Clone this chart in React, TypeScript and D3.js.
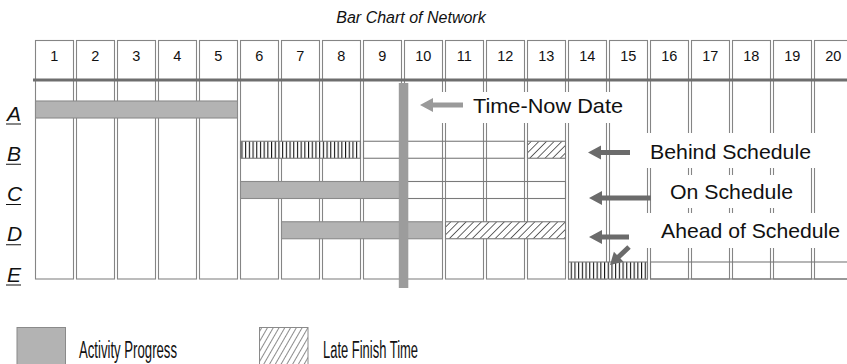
import React from "react";
import * as d3 from "d3";

// ---------------- data ----------------
const periods = d3.range(1, 21).map(String);
const activities = ["A", "B", "C", "D", "E"];

// [activity, startPeriodIndex, endPeriodIndex]  (period boundaries, 0..20)
const progressBars: [string, number, number][] = [
  ["A", 0, 5],
  ["C", 5, 9],
  ["D", 6, 10],
];
const scheduledBars: [string, number, number][] = [
  ["B", 5, 8],
  ["E", 13, 15],
];
const remainingBars: [string, number, number][] = [
  ["B", 8, 12],
  ["C", 9, 13],
  ["E", 15, 20],
];
const lateFinishBars: [string, number, number][] = [
  ["B", 12, 13],
  ["D", 10, 13],
];
const timeNow = 9;

const title = "Bar Chart of Network";
const notes = ["Time-Now Date", "Behind Schedule", "On Schedule", "Ahead of Schedule"];
const legendItems = ["Activity Progress", "Late Finish Time"];

const W = 847;
const H = 364;
const FONT = "'Liberation Sans', Arial, Helvetica, sans-serif";

function arrow(x1: number, y1: number, x2: number, y2: number, shaft = 5, headL = 13, headW = 14) {
  const dx = x2 - x1;
  const dy = y2 - y1;
  const len = Math.hypot(dx, dy);
  const ux = dx / len;
  const uy = dy / len;
  const px = -uy;
  const py = ux;
  const bx = x2 - ux * headL;
  const by = y2 - uy * headL;
  const s = shaft / 2;
  const h = headW / 2;
  const pts = [
    [x1 + px * s, y1 + py * s],
    [bx + px * s, by + py * s],
    [bx + px * h, by + py * h],
    [x2, y2],
    [bx - px * h, by - py * h],
    [bx - px * s, by - py * s],
    [x1 - px * s, y1 - py * s],
  ];
  return pts.map((p) => p.join(",")).join(" ");
}

export default function App() {
  const x = d3.scaleLinear().domain([0, 20]).range([35, 855]);
  const y = d3.scalePoint<string>().domain(activities).range([109.5, 270.5]);
  const barH = 17;
  const top = 40.5;
  const headerLine = 80;
  const bottom = 279;
  const gap = 2.5;

  const barRect = (d: [string, number, number]) => ({
    x: x(d[1]) + 0.5,
    y: (y(d[0]) as number) - barH / 2,
    width: x(d[2]) - x(d[1]) - gap - 0.5,
    height: barH,
  });

  // label boxes (white) and arrows
  const noteLayout = [
    { box: [438, 92, 202, 31], tx: 473, ty: 113, arrow: [463, 105, 420, 105], color: "#9a9a9a" },
    { box: [641, 133, 185, 35], tx: 650, ty: 159, arrow: [630, 152.5, 588, 152.5], color: "#6b6b6b" },
    { box: [656, 175, 154, 33], tx: 670, ty: 199, arrow: [651, 198, 589, 198], color: "#6b6b6b" },
    { box: [645, 213, 202, 35], tx: 661, ty: 238, arrow: [629, 237, 589, 237], color: "#6b6b6b" },
  ];
  const noteWidths = [150, 161, 123, 179];

  return (
    <svg width={W} height={H} style={{ position: "absolute", left: 0, top: 0 }}>
      <defs>
        <pattern id="vhatch" width={3.7} height={10} patternUnits="userSpaceOnUse">
          <rect width={3.7} height={10} fill="#fff" />
          <line x1={1.5} y1={0} x2={1.5} y2={10} stroke="#000" strokeWidth={1} />
        </pattern>
        <pattern id="dhatch" width={5.4} height={5.4} patternUnits="userSpaceOnUse" patternTransform="rotate(45)">
          <rect width={5.4} height={5.4} fill="#fff" />
          <line x1={0} y1={0} x2={0} y2={5.4} stroke="#000" strokeWidth={1.2} />
        </pattern>
        <pattern id="dhatchLegend" width={5} height={5} patternUnits="userSpaceOnUse" patternTransform="rotate(30)">
          <rect width={5} height={5} fill="#fff" />
          <line x1={0} y1={0} x2={0} y2={5} stroke="#000" strokeWidth={0.9} />
        </pattern>
      </defs>
      <rect width={W} height={H} fill="#fff" />

      <text x={411} y={23} textAnchor="middle" fontFamily={FONT} fontStyle="italic" fontSize={16} fill="#111">
        {title}
      </text>

      {/* period columns */}
      {periods.map((p, i) => (
        <g key={p}>
          <rect
            x={x(i) + 0.5}
            y={top}
            width={x(i + 1) - x(i) - gap - 0.5}
            height={bottom - top}
            fill="none"
            stroke="#858585"
            strokeWidth={1.1}
          />
          <text
            x={(x(i) + x(i + 1) - gap) / 2}
            y={60.5}
            textAnchor="middle"
            fontFamily={FONT}
            fontSize={14.5}
            fill="#111"
          >
            {p}
          </text>
        </g>
      ))}
      <line x1={33} x2={W} y1={headerLine} y2={headerLine} stroke="#6e6e6e" strokeWidth={3} />

      {/* activity labels */}
      {activities.map((a) => (
        <g key={a}>
          <text x={7} y={(y(a) as number) + 11} fontFamily={FONT} fontStyle="italic" fontSize={21} fill="#111">
            {a}
          </text>
          <line x1={6} x2={21} y1={(y(a) as number) + 14.5} y2={(y(a) as number) + 14.5} stroke="#111" strokeWidth={1} />
        </g>
      ))}

      {/* bars */}
      {remainingBars.map((d, i) => {
        const r = barRect(d);
        return <rect key={"r" + i} {...r} fill="none" stroke="#7a7a7a" strokeWidth={1.1} />;
      })}
      {scheduledBars.map((d, i) => {
        const r = barRect(d);
        return <rect key={"s" + i} {...r} fill="url(#vhatch)" stroke="#7a7a7a" strokeWidth={1.1} />;
      })}
      {lateFinishBars.map((d, i) => {
        const r = barRect(d);
        return <rect key={"l" + i} {...r} fill="url(#dhatch)" stroke="#7a7a7a" strokeWidth={1.1} />;
      })}
      {progressBars.map((d, i) => {
        const r = barRect(d);
        return <rect key={"p" + i} {...r} fill="#b3b3b3" stroke="#8a8a8a" strokeWidth={1.1} />;
      })}

      {/* time-now line */}
      <rect x={x(timeNow) - 5.2} y={83} width={9.5} height={205} fill="#9c9c9c" />

      {/* notes */}
      {notes.map((n, i) => {
        const L = noteLayout[i];
        const [bx, by, bw, bh] = L.box;
        const [ax1, ay1, ax2, ay2] = L.arrow;
        return (
          <g key={n}>
            <rect x={bx} y={by} width={bw} height={bh} fill="#fff" />
            <polygon points={arrow(ax1, ay1, ax2, ay2)} fill={L.color} />
            <text
              x={L.tx}
              y={L.ty}
              fontFamily={FONT}
              fontSize={21}
              textLength={noteWidths[i]}
              lengthAdjust="spacingAndGlyphs"
              fill="#111"
            >
              {n}
            </text>
          </g>
        );
      })}
      <polygon points={arrow(629, 247, 610, 265, 5, 12, 14)} fill="#6b6b6b" />

      {/* legend */}
      <rect x={17} y={327.5} width={48.5} height={40} fill="#b3b3b3" stroke="#8a8a8a" strokeWidth={1} />
      <text x={79} y={358} fontFamily={FONT} fontSize={23} textLength={98} lengthAdjust="spacingAndGlyphs" fill="#111">
        {legendItems[0]}
      </text>
      <rect x={259.5} y={327.5} width={48.5} height={40} fill="url(#dhatchLegend)" stroke="#8a8a8a" strokeWidth={1} />
      <text x={323} y={358} fontFamily={FONT} fontSize={23} textLength={95} lengthAdjust="spacingAndGlyphs" fill="#111">
        {legendItems[1]}
      </text>
    </svg>
  );
}
